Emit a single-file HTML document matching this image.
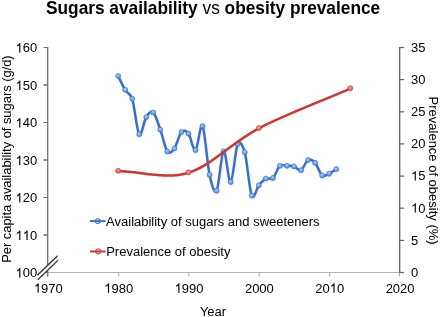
<!DOCTYPE html>
<html><head><meta charset="utf-8"><style>
html,body{margin:0;padding:0;background:#fff;overflow:hidden;}
svg{display:block;will-change:transform;}
text{font-family:"Liberation Sans",sans-serif;fill:#000;}
.title{font-size:17.3px;}
.lbl{font-size:13px;}
.bm{fill:url(#gb);stroke:#3a70c2;stroke-width:0.6;}
.sm{fill:#000;}
.rm{fill:url(#gr);stroke:#c23b3b;stroke-width:0.6;}
</style></head><body>
<svg width="440" height="317" viewBox="0 0 440 317">
<defs><radialGradient id="gb" cx="0.45" cy="0.35" r="0.7"><stop offset="0" stop-color="#a9c8f2"/><stop offset="1" stop-color="#4f88d6"/></radialGradient>
<filter id="sh" x="-10%" y="-10%" width="120%" height="120%"><feGaussianBlur stdDeviation="0.9"/></filter>
<radialGradient id="gr" cx="0.45" cy="0.35" r="0.7"><stop offset="0" stop-color="#f09a9a"/><stop offset="1" stop-color="#d85656"/></radialGradient></defs>
<g transform="translate(46.00,13.70) scale(1,1.04)"><text x="0" y="0" class="title" ><tspan font-weight="bold">Sugars availability</tspan> vs <tspan font-weight="bold">obesity prevalence</tspan></text></g>
<line x1="47.5" y1="272.5" x2="399.5" y2="272.5" stroke="#b4b4b4" stroke-width="1.1"/>
<line x1="47.5" y1="272.5" x2="47.5" y2="276.5" stroke="#b0b0b0" stroke-width="1.1"/>
<g transform="translate(0,292.70) scale(1,1.04)"><text x="33.89" y="0" class="lbl"> 970</text><path transform="translate(33.89,0) scale(0.006348,-0.006104)" d="M763 0 L583 0 L583 1147 Q518 1085 413 1023 Q307 961 223 930 L223 1104 Q374 1175 487 1276 Q600 1377 647 1472 L763 1472 Z"/></g>
<line x1="118.5" y1="272.5" x2="118.5" y2="276.5" stroke="#b0b0b0" stroke-width="1.1"/>
<g transform="translate(0,292.70) scale(1,1.04)"><text x="104.24" y="0" class="lbl"> 980</text><path transform="translate(104.24,0) scale(0.006348,-0.006104)" d="M763 0 L583 0 L583 1147 Q518 1085 413 1023 Q307 961 223 930 L223 1104 Q374 1175 487 1276 Q600 1377 647 1472 L763 1472 Z"/></g>
<line x1="188.85" y1="272.5" x2="188.85" y2="276.5" stroke="#b0b0b0" stroke-width="1.1"/>
<g transform="translate(0,292.70) scale(1,1.04)"><text x="174.59" y="0" class="lbl"> 990</text><path transform="translate(174.59,0) scale(0.006348,-0.006104)" d="M763 0 L583 0 L583 1147 Q518 1085 413 1023 Q307 961 223 930 L223 1104 Q374 1175 487 1276 Q600 1377 647 1472 L763 1472 Z"/></g>
<line x1="259.2" y1="272.5" x2="259.2" y2="276.5" stroke="#b0b0b0" stroke-width="1.1"/>
<g transform="translate(0,292.70) scale(1,1.04)"><text x="244.94" y="0" class="lbl">2000</text></g>
<line x1="329.55" y1="272.5" x2="329.55" y2="276.5" stroke="#b0b0b0" stroke-width="1.1"/>
<g transform="translate(0,292.70) scale(1,1.04)"><text x="315.29" y="0" class="lbl">20 0</text><path transform="translate(329.75,0) scale(0.006348,-0.006104)" d="M763 0 L583 0 L583 1147 Q518 1085 413 1023 Q307 961 223 930 L223 1104 Q374 1175 487 1276 Q600 1377 647 1472 L763 1472 Z"/></g>
<line x1="399.5" y1="272.5" x2="399.5" y2="276.5" stroke="#b0b0b0" stroke-width="1.1"/>
<g transform="translate(0,292.70) scale(1,1.04)"><text x="385.64" y="0" class="lbl">2020</text></g>
<line x1="47.7" y1="47.0" x2="47.7" y2="276.5" stroke="#727272" stroke-width="1.3"/>
<line x1="43.5" y1="47.5" x2="47.5" y2="47.5" stroke="#6e6e6e" stroke-width="1"/>
<g transform="translate(0,52.40) scale(1,1.04)"><text x="15.51" y="0" class="lbl"> 60</text><path transform="translate(15.51,0) scale(0.006348,-0.006104)" d="M763 0 L583 0 L583 1147 Q518 1085 413 1023 Q307 961 223 930 L223 1104 Q374 1175 487 1276 Q600 1377 647 1472 L763 1472 Z"/></g>
<line x1="43.5" y1="85" x2="47.5" y2="85" stroke="#6e6e6e" stroke-width="1.5"/>
<g transform="translate(0,89.90) scale(1,1.04)"><text x="15.51" y="0" class="lbl"> 50</text><path transform="translate(15.51,0) scale(0.006348,-0.006104)" d="M763 0 L583 0 L583 1147 Q518 1085 413 1023 Q307 961 223 930 L223 1104 Q374 1175 487 1276 Q600 1377 647 1472 L763 1472 Z"/></g>
<line x1="43.5" y1="122.5" x2="47.5" y2="122.5" stroke="#6e6e6e" stroke-width="1"/>
<g transform="translate(0,127.40) scale(1,1.04)"><text x="15.51" y="0" class="lbl"> 40</text><path transform="translate(15.51,0) scale(0.006348,-0.006104)" d="M763 0 L583 0 L583 1147 Q518 1085 413 1023 Q307 961 223 930 L223 1104 Q374 1175 487 1276 Q600 1377 647 1472 L763 1472 Z"/></g>
<line x1="43.5" y1="160" x2="47.5" y2="160" stroke="#6e6e6e" stroke-width="1.5"/>
<g transform="translate(0,164.90) scale(1,1.04)"><text x="15.51" y="0" class="lbl"> 30</text><path transform="translate(15.51,0) scale(0.006348,-0.006104)" d="M763 0 L583 0 L583 1147 Q518 1085 413 1023 Q307 961 223 930 L223 1104 Q374 1175 487 1276 Q600 1377 647 1472 L763 1472 Z"/></g>
<line x1="43.5" y1="197.5" x2="47.5" y2="197.5" stroke="#6e6e6e" stroke-width="1"/>
<g transform="translate(0,202.40) scale(1,1.04)"><text x="15.51" y="0" class="lbl"> 20</text><path transform="translate(15.51,0) scale(0.006348,-0.006104)" d="M763 0 L583 0 L583 1147 Q518 1085 413 1023 Q307 961 223 930 L223 1104 Q374 1175 487 1276 Q600 1377 647 1472 L763 1472 Z"/></g>
<line x1="43.5" y1="235" x2="47.5" y2="235" stroke="#6e6e6e" stroke-width="1.5"/>
<g transform="translate(0,239.90) scale(1,1.04)"><text x="15.51" y="0" class="lbl">  0</text><path transform="translate(15.51,0) scale(0.006348,-0.006104)" d="M763 0 L583 0 L583 1147 Q518 1085 413 1023 Q307 961 223 930 L223 1104 Q374 1175 487 1276 Q600 1377 647 1472 L763 1472 Z"/><path transform="translate(22.74,0) scale(0.006348,-0.006104)" d="M763 0 L583 0 L583 1147 Q518 1085 413 1023 Q307 961 223 930 L223 1104 Q374 1175 487 1276 Q600 1377 647 1472 L763 1472 Z"/></g>
<line x1="43.5" y1="272.5" x2="47.5" y2="272.5" stroke="#6e6e6e" stroke-width="1"/>
<g transform="translate(0,277.40) scale(1,1.04)"><text x="15.51" y="0" class="lbl"> 00</text><path transform="translate(15.51,0) scale(0.006348,-0.006104)" d="M763 0 L583 0 L583 1147 Q518 1085 413 1023 Q307 961 223 930 L223 1104 Q374 1175 487 1276 Q600 1377 647 1472 L763 1472 Z"/></g>
<line x1="399.7" y1="46.9" x2="399.7" y2="273.1" stroke="#626262" stroke-width="1.3"/>
<line x1="399.5" y1="47.5" x2="404.0" y2="47.5" stroke="#626262" stroke-width="1.2"/>
<g transform="translate(0,51.90) scale(1,1.04)"><text x="411.00" y="0" class="lbl">35</text></g>
<line x1="399.5" y1="79.6" x2="404.0" y2="79.6" stroke="#626262" stroke-width="1.2"/>
<g transform="translate(0,84.04) scale(1,1.04)"><text x="411.00" y="0" class="lbl">30</text></g>
<line x1="399.5" y1="111.8" x2="404.0" y2="111.8" stroke="#626262" stroke-width="1.2"/>
<g transform="translate(0,116.19) scale(1,1.04)"><text x="411.00" y="0" class="lbl">25</text></g>
<line x1="399.5" y1="143.9" x2="404.0" y2="143.9" stroke="#626262" stroke-width="1.2"/>
<g transform="translate(0,148.33) scale(1,1.04)"><text x="411.00" y="0" class="lbl">20</text></g>
<line x1="399.5" y1="176.1" x2="404.0" y2="176.1" stroke="#626262" stroke-width="1.2"/>
<g transform="translate(0,180.47) scale(1,1.04)"><text x="411.00" y="0" class="lbl"> 5</text><path transform="translate(411.00,0) scale(0.006348,-0.006104)" d="M763 0 L583 0 L583 1147 Q518 1085 413 1023 Q307 961 223 930 L223 1104 Q374 1175 487 1276 Q600 1377 647 1472 L763 1472 Z"/></g>
<line x1="399.5" y1="208.2" x2="404.0" y2="208.2" stroke="#626262" stroke-width="1.2"/>
<g transform="translate(0,212.61) scale(1,1.04)"><text x="411.00" y="0" class="lbl"> 0</text><path transform="translate(411.00,0) scale(0.006348,-0.006104)" d="M763 0 L583 0 L583 1147 Q518 1085 413 1023 Q307 961 223 930 L223 1104 Q374 1175 487 1276 Q600 1377 647 1472 L763 1472 Z"/></g>
<line x1="399.5" y1="240.4" x2="404.0" y2="240.4" stroke="#626262" stroke-width="1.2"/>
<g transform="translate(0,244.76) scale(1,1.04)"><text x="411.00" y="0" class="lbl">5</text></g>
<line x1="399.5" y1="272.5" x2="404.0" y2="272.5" stroke="#626262" stroke-width="1.2"/>
<g transform="translate(0,276.90) scale(1,1.04)"><text x="411.00" y="0" class="lbl">0</text></g>
<g transform="translate(10.70,262.80) rotate(-90) scale(1,1.04)"><text x="0" y="0" class="lbl" textLength="207.5">Per capita availability of sugars (g/d)</text></g>
<g transform="translate(428.90,96.60) rotate(90) scale(1,1.04)"><text x="0" y="0" class="lbl" >Prevalence of obesity (%)</text></g>
<g transform="translate(199.90,315.50) scale(1,1.04)"><text x="0" y="0" class="lbl" >Year</text></g>
<polygon points="37.3,275.2 57.6,255.8 57.9,260.4 37.8,279.8" fill="#fff"/>
<line x1="37.3" y1="275.3" x2="57.6" y2="255.8" stroke="#303030" stroke-width="1.3"/>
<line x1="37.8" y1="279.8" x2="57.9" y2="260.4" stroke="#303030" stroke-width="1.3"/>
<g filter="url(#sh)" opacity="0.07" transform="translate(0.8,1.6)"><path d="M118.10,75.90 C120.44,80.53 122.79,86.00 125.14,89.80 C127.48,93.60 130.46,93.29 132.17,98.70 C134.52,106.10 136.86,131.15 139.20,134.20 C141.55,137.25 143.90,120.62 146.24,117.00 C148.51,113.50 150.93,110.38 153.28,112.50 C155.62,114.62 157.97,123.20 160.31,129.70 C162.66,136.20 165.00,148.38 167.34,151.50 C169.66,154.57 172.13,151.52 174.38,148.40 C176.72,145.15 179.07,134.47 181.41,132.00 C183.76,129.53 186.24,130.75 188.45,133.60 C190.79,136.62 193.14,151.35 195.49,150.10 C197.83,148.85 200.18,122.00 202.52,126.10 C204.87,130.20 207.21,163.92 209.56,174.70 C211.42,183.28 214.25,194.72 216.59,190.80 C218.94,186.88 221.28,152.67 223.62,151.20 C225.97,149.73 228.31,183.20 230.66,182.00 C233.00,180.80 235.35,148.97 237.69,144.00 C240.00,139.12 243.31,146.99 244.73,152.20 C247.08,160.80 249.42,190.08 251.77,195.60 C254.11,201.12 256.45,188.13 258.80,185.30 C261.15,182.47 263.49,179.82 265.84,178.60 C268.18,177.38 270.53,180.13 272.87,178.00 C275.21,175.87 277.56,167.83 279.90,165.80 C282.25,163.77 284.59,165.70 286.94,165.80 C289.29,165.90 291.63,165.67 293.98,166.40 C296.32,167.13 298.66,171.28 301.01,170.20 C303.36,169.12 305.70,161.13 308.05,159.90 C310.39,158.67 312.74,160.22 315.08,162.80 C317.42,165.38 319.77,173.58 322.12,175.40 C324.46,177.22 326.80,174.75 329.15,173.70 C331.50,172.65 333.84,170.63 336.19,169.10" fill="none" stroke="#000" stroke-width="2.5"/><circle cx="118.10" cy="75.90" r="2.5" class="sm"/><circle cx="125.14" cy="89.80" r="2.5" class="sm"/><circle cx="132.17" cy="98.70" r="2.5" class="sm"/><circle cx="139.20" cy="134.20" r="2.5" class="sm"/><circle cx="146.24" cy="117.00" r="2.5" class="sm"/><circle cx="153.28" cy="112.50" r="2.5" class="sm"/><circle cx="160.31" cy="129.70" r="2.5" class="sm"/><circle cx="167.34" cy="151.50" r="2.5" class="sm"/><circle cx="174.38" cy="148.40" r="2.5" class="sm"/><circle cx="181.41" cy="132.00" r="2.5" class="sm"/><circle cx="188.45" cy="133.60" r="2.5" class="sm"/><circle cx="195.49" cy="150.10" r="2.5" class="sm"/><circle cx="202.52" cy="126.10" r="2.5" class="sm"/><circle cx="209.56" cy="174.70" r="2.5" class="sm"/><circle cx="216.59" cy="190.80" r="2.5" class="sm"/><circle cx="223.62" cy="151.20" r="2.5" class="sm"/><circle cx="230.66" cy="182.00" r="2.5" class="sm"/><circle cx="237.69" cy="144.00" r="2.5" class="sm"/><circle cx="244.73" cy="152.20" r="2.5" class="sm"/><circle cx="251.77" cy="195.60" r="2.5" class="sm"/><circle cx="258.80" cy="185.30" r="2.5" class="sm"/><circle cx="265.84" cy="178.60" r="2.5" class="sm"/><circle cx="272.87" cy="178.00" r="2.5" class="sm"/><circle cx="279.90" cy="165.80" r="2.5" class="sm"/><circle cx="286.94" cy="165.80" r="2.5" class="sm"/><circle cx="293.98" cy="166.40" r="2.5" class="sm"/><circle cx="301.01" cy="170.20" r="2.5" class="sm"/><circle cx="308.05" cy="159.90" r="2.5" class="sm"/><circle cx="315.08" cy="162.80" r="2.5" class="sm"/><circle cx="322.12" cy="175.40" r="2.5" class="sm"/><circle cx="329.15" cy="173.70" r="2.5" class="sm"/><circle cx="336.19" cy="169.10" r="2.5" class="sm"/><path d="M118.10,170.70 C141.55,171.23 165.00,179.43 188.45,172.30 C211.90,165.17 231.83,141.92 258.80,127.90 C285.77,113.88 319.77,101.43 350.25,88.20" fill="none" stroke="#000" stroke-width="2.5"/><circle cx="118.10" cy="170.70" r="2.5" class="sm"/><circle cx="188.45" cy="172.30" r="2.5" class="sm"/><circle cx="258.80" cy="127.90" r="2.5" class="sm"/><circle cx="350.25" cy="88.20" r="2.5" class="sm"/></g>
<path d="M118.10,75.90 C120.44,80.53 122.79,86.00 125.14,89.80 C127.48,93.60 130.46,93.29 132.17,98.70 C134.52,106.10 136.86,131.15 139.20,134.20 C141.55,137.25 143.90,120.62 146.24,117.00 C148.51,113.50 150.93,110.38 153.28,112.50 C155.62,114.62 157.97,123.20 160.31,129.70 C162.66,136.20 165.00,148.38 167.34,151.50 C169.66,154.57 172.13,151.52 174.38,148.40 C176.72,145.15 179.07,134.47 181.41,132.00 C183.76,129.53 186.24,130.75 188.45,133.60 C190.79,136.62 193.14,151.35 195.49,150.10 C197.83,148.85 200.18,122.00 202.52,126.10 C204.87,130.20 207.21,163.92 209.56,174.70 C211.42,183.28 214.25,194.72 216.59,190.80 C218.94,186.88 221.28,152.67 223.62,151.20 C225.97,149.73 228.31,183.20 230.66,182.00 C233.00,180.80 235.35,148.97 237.69,144.00 C240.00,139.12 243.31,146.99 244.73,152.20 C247.08,160.80 249.42,190.08 251.77,195.60 C254.11,201.12 256.45,188.13 258.80,185.30 C261.15,182.47 263.49,179.82 265.84,178.60 C268.18,177.38 270.53,180.13 272.87,178.00 C275.21,175.87 277.56,167.83 279.90,165.80 C282.25,163.77 284.59,165.70 286.94,165.80 C289.29,165.90 291.63,165.67 293.98,166.40 C296.32,167.13 298.66,171.28 301.01,170.20 C303.36,169.12 305.70,161.13 308.05,159.90 C310.39,158.67 312.74,160.22 315.08,162.80 C317.42,165.38 319.77,173.58 322.12,175.40 C324.46,177.22 326.80,174.75 329.15,173.70 C331.50,172.65 333.84,170.63 336.19,169.10" fill="none" stroke="#3a70c2" stroke-width="2.5" stroke-linejoin="round" stroke-linecap="round"/>
<circle cx="118.10" cy="75.90" r="2.5" class="bm"/><circle cx="125.14" cy="89.80" r="2.5" class="bm"/><circle cx="132.17" cy="98.70" r="2.5" class="bm"/><circle cx="139.20" cy="134.20" r="2.5" class="bm"/><circle cx="146.24" cy="117.00" r="2.5" class="bm"/><circle cx="153.28" cy="112.50" r="2.5" class="bm"/><circle cx="160.31" cy="129.70" r="2.5" class="bm"/><circle cx="167.34" cy="151.50" r="2.5" class="bm"/><circle cx="174.38" cy="148.40" r="2.5" class="bm"/><circle cx="181.41" cy="132.00" r="2.5" class="bm"/><circle cx="188.45" cy="133.60" r="2.5" class="bm"/><circle cx="195.49" cy="150.10" r="2.5" class="bm"/><circle cx="202.52" cy="126.10" r="2.5" class="bm"/><circle cx="209.56" cy="174.70" r="2.5" class="bm"/><circle cx="216.59" cy="190.80" r="2.5" class="bm"/><circle cx="223.62" cy="151.20" r="2.5" class="bm"/><circle cx="230.66" cy="182.00" r="2.5" class="bm"/><circle cx="237.69" cy="144.00" r="2.5" class="bm"/><circle cx="244.73" cy="152.20" r="2.5" class="bm"/><circle cx="251.77" cy="195.60" r="2.5" class="bm"/><circle cx="258.80" cy="185.30" r="2.5" class="bm"/><circle cx="265.84" cy="178.60" r="2.5" class="bm"/><circle cx="272.87" cy="178.00" r="2.5" class="bm"/><circle cx="279.90" cy="165.80" r="2.5" class="bm"/><circle cx="286.94" cy="165.80" r="2.5" class="bm"/><circle cx="293.98" cy="166.40" r="2.5" class="bm"/><circle cx="301.01" cy="170.20" r="2.5" class="bm"/><circle cx="308.05" cy="159.90" r="2.5" class="bm"/><circle cx="315.08" cy="162.80" r="2.5" class="bm"/><circle cx="322.12" cy="175.40" r="2.5" class="bm"/><circle cx="329.15" cy="173.70" r="2.5" class="bm"/><circle cx="336.19" cy="169.10" r="2.5" class="bm"/>
<path transform="translate(0,0.4)" d="M118.10,170.70 C141.55,171.23 165.00,179.43 188.45,172.30 C211.90,165.17 231.83,141.92 258.80,127.90 C285.77,113.88 319.77,101.43 350.25,88.20" fill="none" stroke="#c23b3b" stroke-width="2.5" stroke-linejoin="round" stroke-linecap="round"/>
<circle cx="118.10" cy="170.70" r="2.5" class="rm"/><circle cx="188.45" cy="172.30" r="2.5" class="rm"/><circle cx="258.80" cy="127.90" r="2.5" class="rm"/><circle cx="350.25" cy="88.20" r="2.5" class="rm"/>
<circle cx="97.8" cy="221.1" r="2.6" fill="#c5d5ee" stroke="#3a70c2" stroke-width="1"/>
<line x1="90" y1="221.1" x2="105.4" y2="221.1" stroke="#3a70c2" stroke-width="2"/>
<g transform="translate(106.10,226.40) scale(1,1.04)"><text x="0" y="0" class="lbl" >Availability of sugars and sweeteners</text></g>
<circle cx="98.2" cy="251.4" r="2.6" fill="#f2cccc" stroke="#c23b3b" stroke-width="1"/>
<line x1="90" y1="251.5" x2="105.6" y2="251.5" stroke="#c23b3b" stroke-width="2"/>
<g transform="translate(106.20,256.00) scale(1,1.04)"><text x="0" y="0" class="lbl" >Prevalence of obesity</text></g>
</svg>
</body></html>
